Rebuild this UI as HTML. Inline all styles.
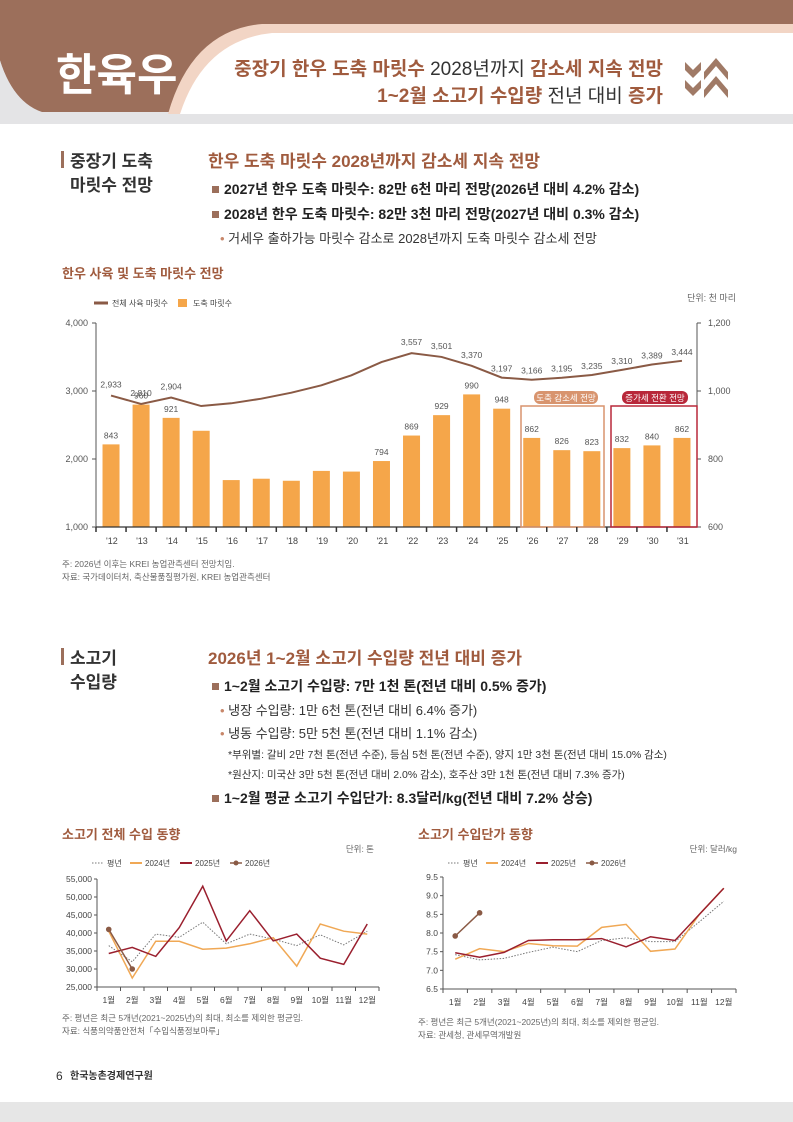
<!DOCTYPE html>
<html><head><meta charset="utf-8"><style>
html,body{margin:0;padding:0;background:#fff}
svg{display:block}
text{font-family:"Liberation Sans","Noto Sans CJK KR",sans-serif}
</style></head><body>
<svg width="793" height="1122" viewBox="0 0 793 1122" xmlns="http://www.w3.org/2000/svg">
<!-- header -->
<rect x="0" y="0" width="793" height="118" fill="#9c6f5b"/>
<rect x="0" y="112" width="793" height="12" fill="#e4e4e6"/>
<path d="M0 60 Q15 108 50 114 L0 114Z" fill="#e4e4e6"/>
<path d="M0 0 L0 60 Q15 108 50 112 L180 112 L180 0Z" fill="#9c6f5b"/>
<path d="M168 114 Q192 30 262 24 L793 24 L793 114 Z" fill="#f2d5c5"/>
<path d="M180 114 Q204 40 272 33 L793 33 L793 114 Z" fill="#fff"/>
<text x="56" y="90" font-size="44" font-weight="bold" fill="#fff">한육우</text>
<text x="663" y="75" font-size="19" text-anchor="end" fill="#333"><tspan fill="#a05b3e" font-weight="bold">중장기 한우 도축 마릿수</tspan> 2028년까지 <tspan fill="#a05b3e" font-weight="bold">감소세 지속 전망</tspan></text>
<text x="663" y="102" font-size="19" text-anchor="end" fill="#333"><tspan fill="#a05b3e" font-weight="bold">1~2월 소고기 수입량</tspan> 전년 대비 <tspan fill="#a05b3e" font-weight="bold">증가</tspan></text>
<g fill="#a07a66"><path d="M685 62 l8 8 l8 -8 v8 l-8 8 l-8 -8z"/><path d="M685 80 l8 8 l8 -8 v8 l-8 8 l-8 -8z"/><path d="M704 72 l12 -14 l12 14 v8 l-12 -14 l-12 14z"/><path d="M704 90 l12 -14 l12 14 v8 l-12 -14 l-12 14z"/></g>

<!-- section 1 -->
<rect x="61" y="151" width="3" height="17" fill="#9c6f5b"/>
<text x="70" y="167" font-size="17" font-weight="bold" fill="#333">중장기 도축</text>
<text x="70" y="191" font-size="17" font-weight="bold" fill="#333">마릿수 전망</text>
<text x="208" y="167" font-size="17" font-weight="bold" fill="#a05b3e">한우 도축 마릿수 2028년까지 감소세 지속 전망</text>
<rect x="212" y="186" width="7" height="7" fill="#9c6f5b"/>
<text x="224" y="194" font-size="14" font-weight="bold" fill="#222">2027년 한우 도축 마릿수: 82만 6천 마리 전망(2026년 대비 4.2% 감소)</text>
<rect x="212" y="211" width="7" height="7" fill="#9c6f5b"/>
<text x="224" y="219" font-size="14" font-weight="bold" fill="#222">2028년 한우 도축 마릿수: 82만 3천 마리 전망(2027년 대비 0.3% 감소)</text>
<text x="220" y="243" font-size="13" fill="#333"><tspan fill="#c8876a">•</tspan> 거세우 출하가능 마릿수 감소로 2028년까지 도축 마릿수 감소세 전망</text>
<text x="62" y="278" font-size="13" font-weight="bold" fill="#a05b3e">한우 사육 및 도축 마릿수 전망</text>

<!-- main chart -->
<line x1="94" y1="303" x2="108" y2="303" stroke="#8a5a45" stroke-width="3"/>
<text x="112" y="306" font-size="8" fill="#444">전체 사육 마릿수</text>
<rect x="178" y="299" width="9" height="8" fill="#f5a64a"/>
<text x="193" y="306" font-size="8" fill="#444">도축 마릿수</text>
<text x="736" y="301" font-size="9" text-anchor="end" fill="#666">단위: 천 마리</text>
<g font-size="9" fill="#555">
<text x="88" y="326" text-anchor="end">4,000</text><text x="88" y="394" text-anchor="end">3,000</text><text x="88" y="462" text-anchor="end">2,000</text><text x="88" y="530" text-anchor="end">1,000</text>
<text x="708" y="326">1,200</text><text x="708" y="394">1,000</text><text x="708" y="462">800</text><text x="708" y="530">600</text>
</g>
<g stroke="#555" stroke-width="1">
<line x1="96" y1="323" x2="96" y2="527"/><line x1="697" y1="323" x2="697" y2="527"/>
<line x1="92" y1="323" x2="96" y2="323"/><line x1="92" y1="391" x2="96" y2="391"/><line x1="92" y1="459" x2="96" y2="459"/><line x1="92" y1="527" x2="96" y2="527"/>
<line x1="697" y1="323" x2="701" y2="323"/><line x1="697" y1="391" x2="701" y2="391"/><line x1="697" y1="459" x2="701" y2="459"/><line x1="697" y1="527" x2="701" y2="527"/>
</g>
<g id="bars" fill="#f5a64a"></g>
<line x1="96" y1="527" x2="697" y2="527" stroke="#333" stroke-width="1.2"/>
<g id="xt" font-size="9" fill="#444"></g>
<polyline id="ln" fill="none" stroke="#8a5a45" stroke-width="2"/>
<g id="lbl" font-size="8.5" fill="#555" text-anchor="middle"></g>
<rect x="521" y="406" width="83" height="121" fill="none" stroke="#d8946e" stroke-width="1.5"/>
<rect x="611" y="406" width="86" height="121" fill="none" stroke="#b8283a" stroke-width="1.5"/>
<rect x="534" y="391" width="64" height="13" rx="6" fill="#d8946e"/>
<text x="566" y="401" font-size="8.5" fill="#fff" text-anchor="middle">도축 감소세 전망</text>
<rect x="622" y="391" width="66" height="13" rx="6" fill="#b8283a"/>
<text x="655" y="401" font-size="8.5" fill="#fff" text-anchor="middle">증가세 전환 전망</text>
<text x="62" y="567" font-size="8.5" fill="#666">주: 2026년 이후는 KREI 농업관측센터 전망치임.</text>
<text x="62" y="580" font-size="8.5" fill="#666">자료: 국가데이터처, 축산물품질평가원, KREI 농업관측센터</text>

<!-- section 2 -->
<rect x="61" y="648" width="3" height="17" fill="#9c6f5b"/>
<text x="70" y="664" font-size="17" font-weight="bold" fill="#333">소고기</text>
<text x="70" y="688" font-size="17" font-weight="bold" fill="#333">수입량</text>
<text x="208" y="664" font-size="17" font-weight="bold" fill="#a05b3e">2026년 1~2월 소고기 수입량 전년 대비 증가</text>
<rect x="212" y="683" width="7" height="7" fill="#9c6f5b"/>
<text x="224" y="691" font-size="14" font-weight="bold" fill="#222">1~2월 소고기 수입량: 7만 1천 톤(전년 대비 0.5% 증가)</text>
<text x="220" y="715" font-size="13" fill="#333"><tspan fill="#c8876a">•</tspan> 냉장 수입량: 1만 6천 톤(전년 대비 6.4% 증가)</text>
<text x="220" y="738" font-size="13" fill="#333"><tspan fill="#c8876a">•</tspan> 냉동 수입량: 5만 5천 톤(전년 대비 1.1% 감소)</text>
<text x="228" y="758" font-size="10.5" fill="#333">*부위별: 갈비 2만 7천 톤(전년 수준), 등심 5천 톤(전년 수준), 양지 1만 3천 톤(전년 대비 15.0% 감소)</text>
<text x="228" y="778" font-size="10.5" fill="#333">*원산지: 미국산 3만 5천 톤(전년 대비 2.0% 감소), 호주산 3만 1천 톤(전년 대비 7.3% 증가)</text>
<rect x="212" y="795" width="7" height="7" fill="#9c6f5b"/>
<text x="224" y="803" font-size="14" font-weight="bold" fill="#222">1~2월 평균 소고기 수입단가: 8.3달러/kg(전년 대비 7.2% 상승)</text>

<text x="62" y="839" font-size="13" font-weight="bold" fill="#a05b3e">소고기 전체 수입 동향</text>
<text x="418" y="839" font-size="13" font-weight="bold" fill="#a05b3e">소고기 수입단가 동향</text>
<text x="374" y="852" font-size="8.5" fill="#666" text-anchor="end">단위: 톤</text>
<text x="737" y="852" font-size="8.5" fill="#666" text-anchor="end">단위: 달러/kg</text>
<g id="leg" font-size="8" fill="#444"></g>
<g id="c1"></g><g id="c2"></g>

<text x="62" y="1021" font-size="8.5" fill="#666">주: 평년은 최근 5개년(2021~2025년)의 최대, 최소를 제외한 평균임.</text>
<text x="62" y="1034" font-size="8.5" fill="#666">자료: 식품의약품안전처「수입식품정보마루」</text>
<text x="418" y="1025" font-size="8.5" fill="#666">주: 평년은 최근 5개년(2021~2025년)의 최대, 최소를 제외한 평균임.</text>
<text x="418" y="1038" font-size="8.5" fill="#666">자료: 관세청, 관세무역개발원</text>

<text x="56" y="1080" font-size="12" fill="#333">6</text>
<text x="70" y="1079" font-size="10" font-weight="bold" fill="#333">한국농촌경제연구원</text>
<rect x="0" y="1102" width="793" height="20" fill="#e6e6e6"/>
</svg>
<script>
var NS="http://www.w3.org/2000/svg";
function el(p,t,a,txt){var e=document.createElementNS(NS,t);for(var k in a)e.setAttribute(k,a[k]);if(txt!=null)e.textContent=txt;p.appendChild(e);return e;}
var bars=[843,960,921,883,738,742,736,765,763,794,869,929,990,948,862,826,823,832,840,862];
var blab=[1,1,1,0,0,0,0,0,0,1,1,1,1,1,1,1,1,1,1,1];
var line=[2933,2810,2904,2779,2819,2887,2975,3084,3231,3426,3557,3501,3370,3197,3166,3195,3235,3310,3389,3444];
var llab=[1,1,1,0,0,0,0,0,0,0,1,1,1,1,1,1,1,1,1,1];
var x0=96,w=30.05,B=document.getElementById('bars'),X=document.getElementById('xt'),L=document.getElementById('lbl'),pts=[];
for(var i=0;i<20;i++){var cx=x0+w*(i+0.5);var by=527-(bars[i]-600)*0.34;
el(B,'rect',{x:cx-8.5,y:by,width:17,height:527-by});
el(X,'text',{x:cx-5,y:544},"'"+(12+i));
el(document.querySelector('svg'),'line',{x1:x0+w*i,y1:527,x2:x0+w*i,y2:532,stroke:'#333','stroke-width':1.5});
var ly=527-(line[i]-1000)*0.068;pts.push(cx+','+ly);
if(blab[i])el(L,'text',{x:cx,y:by-6},bars[i]);
if(llab[i])el(L,'text',{x:cx,y:ly-(i>=13?6:8)},line[i].toLocaleString('en-US'));}
document.getElementById('ln').setAttribute('points',pts.join(' '));
function chart(g,xl,xr,yt,yb,vmin,vmax,ticks,fmt,series){
 var G=document.getElementById(g);
 el(G,'line',{x1:xl,y1:yt,x2:xl,y2:yb,stroke:'#555'});el(G,'line',{x1:xl,y1:yb,x2:xr,y2:yb,stroke:'#555'});
 ticks.forEach(function(t){var y=yb-(t-vmin)/(vmax-vmin)*(yb-yt);el(G,'line',{x1:xl-3,y1:y,x2:xl,y2:y,stroke:'#555'});el(G,'text',{x:xl-5,y:y+3,'font-size':8.5,fill:'#444','text-anchor':'end'},fmt(t));});
 var st=(xr-xl)/12;
 for(var m=0;m<12;m++){el(G,'line',{x1:xl+st*m,y1:yb,x2:xl+st*m,y2:yb+4,stroke:'#555'});el(G,'text',{x:xl+st*(m+0.5),y:yb+16,'font-size':8.5,fill:'#444','text-anchor':'middle'},(m+1)+'월');}
 series.forEach(function(s){var p=s.d.map(function(v,m){return (xl+st*(m+0.5))+','+(yb-(v-vmin)/(vmax-vmin)*(yb-yt));});
  el(G,'polyline',{points:p.join(' '),fill:'none',stroke:s.c,'stroke-width':s.w,'stroke-dasharray':s.da||''});
  if(s.dot)p.forEach(function(q){var a=q.split(',');el(G,'circle',{cx:a[0],cy:a[1],r:2.8,fill:s.c});});});
 el(G,'line',{x1:xr,y1:yb,x2:xr,y2:yb+4,stroke:'#555'});
}
chart('c1',97,379,879,987,25000,55000,[25000,30000,35000,40000,45000,50000,55000],function(t){return t.toLocaleString('en-US')},[
{d:[36500,32000,39700,38800,43000,37000,39700,38300,36500,39500,36700,40500],c:'#777',w:1,da:'1.5,1.5'},
{d:[40500,27500,37700,37700,35500,35800,37000,38700,30800,42500,40500,39700],c:'#f0a855',w:1.5},
{d:[34300,36000,33500,41500,53000,37800,46200,37800,39700,33000,31300,42500],c:'#9a1f2e',w:1.5},
{d:[41000,30000],c:'#8a5a45',w:1.5,dot:1}]);
chart('c2',443,736,877,989,6.5,9.5,[6.5,7,7.5,8,8.5,9,9.5],function(t){return t.toFixed(1)},[
{d:[7.42,7.28,7.32,7.48,7.62,7.5,7.8,7.87,7.77,7.77,8.3,8.85],c:'#777',w:1,da:'1.5,1.5'},
{d:[7.3,7.58,7.5,7.72,7.66,7.65,8.15,8.23,7.51,7.57,8.5,9.2],c:'#f0a855',w:1.5},
{d:[7.47,7.35,7.48,7.8,7.82,7.82,7.85,7.63,7.9,7.8,8.5,9.2],c:'#9a1f2e',w:1.5},
{d:[7.92,8.54],c:'#8a5a45',w:1.5,dot:1}]);
var LG=document.getElementById('leg');
[[92],[448]].forEach(function(a){var x=a[0],y=863;
el(LG,'line',{x1:x,y1:y,x2:x+12,y2:y,stroke:'#777','stroke-dasharray':'1.5,1.5'});el(LG,'text',{x:x+15,y:y+3},'평년');
el(LG,'line',{x1:x+38,y1:y,x2:x+50,y2:y,stroke:'#f0a855','stroke-width':2});el(LG,'text',{x:x+53,y:y+3},'2024년');
el(LG,'line',{x1:x+88,y1:y,x2:x+100,y2:y,stroke:'#9a1f2e','stroke-width':2});el(LG,'text',{x:x+103,y:y+3},'2025년');
el(LG,'line',{x1:x+138,y1:y,x2:x+150,y2:y,stroke:'#8a5a45','stroke-width':1.5});el(LG,'circle',{cx:x+144,cy:y,r:2.5,fill:'#8a5a45'});el(LG,'text',{x:x+153,y:y+3},'2026년');});
</script>
</body></html>
